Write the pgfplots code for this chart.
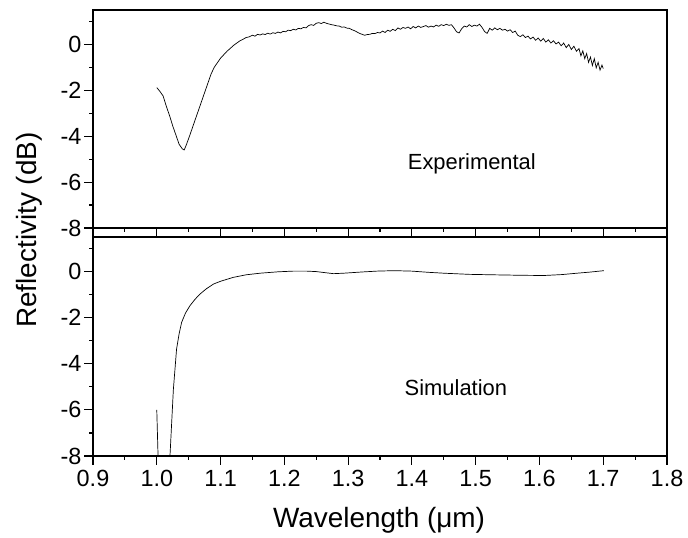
\documentclass[border=0pt]{standalone}
\usepackage{pgfplots}
\pgfplotsset{compat=1.18}
\usepackage{fontspec}
\setmainfont{Liberation Sans}
\pgfplotsset{
  panel/.style={
    scale only axis, width=574bp, xmin=0.9, xmax=1.8, ymin=-8, ymax=1.5,
    axis line style={line width=1.2bp},
    xtick={0.9,1.0,...,1.81}, minor xtick={0.95,1.05,...,1.76},
    ytick={-8,-6,-4,-2,0}, minor ytick={-7,-5,-3,-1,1},
    xtick pos=lower, ytick pos=left, tick align=outside,
    major tick length=9bp, minor tick length=4bp,
    every tick/.style={black, line width=1.2bp},
    /pgf/number format/assume math mode=true,
    every tick label/.append style={font=\fontsize{23.5}{27}\selectfont},
    yticklabel style={xshift=1bp},
    xticklabel style={yshift=-2bp, /pgf/number format/.cd, fixed, fixed zerofill, precision=1},
    clip=true,
  }
}
\begin{document}
\begin{tikzpicture}
\useasboundingbox (0,0) rectangle (688bp,538bp);
\begin{axis}[panel, at={(93bp,310bp)}, anchor=south west, height=218bp, xticklabels={}]
\addplot[black, line width=0.7bp] coordinates {
(1.000,-1.88)(1.005,-2.05)(1.010,-2.25)(1.015,-2.7)(1.020,-3.1)(1.025,-3.55)(1.030,-3.95)(1.035,-4.35)(1.040,-4.55)(1.043,-4.6)(1.046,-4.4)(1.050,-4.1)(1.055,-3.7)(1.060,-3.3)(1.065,-2.9)(1.070,-2.5)(1.075,-2.1)(1.080,-1.7)(1.085,-1.3)(1.090,-1.0)(1.095,-0.8)(1.100,-0.6)(1.105,-0.45)(1.110,-0.3)(1.115,-0.18)(1.120,-0.05)(1.125,0.05)(1.130,0.15)(1.135,0.22)(1.140,0.3)(1.145,0.33)
(1.150,0.40)(1.154,0.36)(1.158,0.44)(1.162,0.41)(1.166,0.46)(1.170,0.43)(1.174,0.49)(1.178,0.45)(1.182,0.51)(1.186,0.48)(1.190,0.54)(1.194,0.50)(1.198,0.57)(1.202,0.55)(1.206,0.62)(1.210,0.60)(1.214,0.66)(1.218,0.63)(1.222,0.70)(1.226,0.68)(1.230,0.74)(1.234,0.72)(1.238,0.82)(1.242,0.86)(1.246,0.83)(1.250,0.92)(1.254,0.95)(1.258,0.91)(1.262,0.97)(1.266,0.92)(1.270,0.89)(1.274,0.86)(1.278,0.84)(1.282,0.81)(1.286,0.80)(1.290,0.75)(1.294,0.76)(1.298,0.71)(1.302,0.70)(1.306,0.64)(1.310,0.60)(1.314,0.54)(1.318,0.48)(1.322,0.44)(1.326,0.40)(1.330,0.43)(1.334,0.44)(1.338,0.48)(1.342,0.47)(1.346,0.52)(1.350,0.50)(1.354,0.58)(1.358,0.52)(1.362,0.62)(1.366,0.57)(1.370,0.66)(1.374,0.60)(1.378,0.72)(1.382,0.66)(1.386,0.74)(1.390,0.70)(1.394,0.76)(1.398,0.68)(1.402,0.78)(1.406,0.72)(1.410,0.80)(1.414,0.74)(1.418,0.78)(1.422,0.82)(1.426,0.75)(1.430,0.80)(1.434,0.76)(1.438,0.84)(1.442,0.79)(1.446,0.86)(1.450,0.82)(1.454,0.88)(1.458,0.83)(1.462,0.86)(1.466,0.72)(1.470,0.55)(1.474,0.50)(1.478,0.68)(1.482,0.80)(1.486,0.76)(1.490,0.86)(1.494,0.78)(1.498,0.84)(1.502,0.80)(1.506,0.88)(1.510,0.74)(1.514,0.56)(1.518,0.48)(1.522,0.70)(1.526,0.62)(1.530,0.72)(1.534,0.64)(1.538,0.70)(1.542,0.62)(1.546,0.66)(1.550,0.58)(1.554,0.64)(1.558,0.52)(1.562,0.58)(1.566,0.40)(1.570,0.34)(1.574,0.42)(1.578,0.30)(1.582,0.36)(1.586,0.24)(1.590,0.32)(1.594,0.18)(1.598,0.28)(1.602,0.14)(1.606,0.26)(1.610,0.10)(1.614,0.20)(1.618,0.06)(1.622,0.16)(1.626,0.02)(1.630,0.10)(1.634,-0.06)(1.638,0.06)(1.642,-0.14)(1.646,0.0)(1.650,-0.22)(1.654,-0.08)(1.658,-0.30)(1.662,-0.18)(1.665,-0.50)(1.668,-0.28)(1.671,-0.62)(1.674,-0.40)(1.677,-0.78)(1.680,-0.55)(1.683,-0.92)(1.686,-0.62)(1.689,-1.02)(1.692,-0.78)(1.695,-1.12)(1.698,-0.90)(1.700,-1.05)
};
\node[font=\fontsize{22}{26}\selectfont] at (axis cs:1.494,-5.22) {Experimental};
\end{axis}
\begin{axis}[panel, at={(93bp,82bp)}, anchor=south west, height=219bp]
\addplot[black, line width=0.7bp] coordinates {
(1.000,-6.0)(1.004,-10)(1.019,-10)(1.0207,-8)(1.026,-5.12)(1.031,-3.37)(1.035,-2.7)(1.039,-2.2)(1.045,-1.8)(1.052,-1.48)(1.060,-1.2)(1.068,-0.97)(1.078,-0.74)(1.089,-0.54)(1.100,-0.42)(1.120,-0.25)(1.140,-0.14)(1.162,-0.07)(1.190,-0.01)(1.214,0.02)(1.235,0.02)(1.250,0.0)(1.265,-0.05)(1.277,-0.09)(1.293,-0.07)(1.320,-0.02)(1.345,0.02)(1.372,0.04)(1.400,0.02)(1.425,-0.03)(1.450,-0.07)(1.490,-0.12)(1.528,-0.14)(1.570,-0.16)(1.607,-0.17)(1.635,-0.13)(1.659,-0.07)(1.680,-0.02)(1.701,0.04)
};
\node[font=\fontsize{22}{26}\selectfont] at (axis cs:1.469,-5.05) {Simulation};
\end{axis}
\node[rotate=90, font=\fontsize{28}{32}\selectfont] at (29bp,308bp) {Reflectivity (dB)};
\node[font=\fontsize{28}{32}\selectfont] at (379bp,18bp) {Wavelength (μm)};
\end{tikzpicture}
\end{document}
